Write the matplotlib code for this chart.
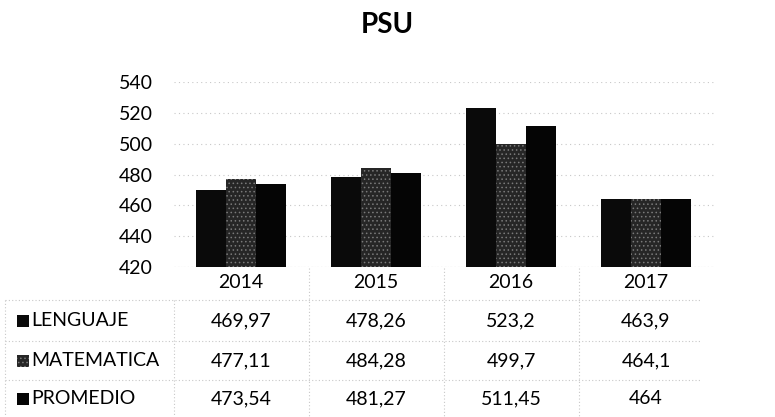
import numpy as np
import matplotlib
matplotlib.use("Agg")
import matplotlib.pyplot as plt
import matplotlib.transforms as mtransforms
from matplotlib.patches import Rectangle

plt.rcParams['font.family'] = ['Lato', 'DejaVu Sans']
plt.rcParams['hatch.linewidth'] = 0.6

# datos
years = ['2014', '2015', '2016', '2017']
series_names = ['LENGUAJE', 'MATEMATICA', 'PROMEDIO']
lenguaje = [469.97, 478.26, 523.2, 463.9]
matematica = [477.11, 484.28, 499.7, 464.1]
promedio = [473.54, 481.27, 511.45, 464]
yticks = [420, 440, 460, 480, 500, 520, 540]

series = [lenguaje, matematica, promedio]
colores = ['#0a0a0a', '#262626', '#050505']
hatches = [None, '....', None]

W, H = 775, 417
fig = plt.figure(figsize=(W / 100, H / 100), dpi=100)
ax = fig.add_axes([173.5 / W, 1 - 267 / H, 540 / W, 185 / H])

x = np.arange(len(years))
ancho = 30 / 135
for i, (vals, c, h) in enumerate(zip(series, colores, hatches)):
    bars = ax.bar(x + (i - 1) * ancho, np.array(vals) - 420, ancho, bottom=420,
                  color=c, linewidth=0, zorder=3)
    if h:
        for b in bars:
            b.set_hatch(h)
            b.set_edgecolor('#7a7a7a')

ax.set_xlim(-0.5, len(years) - 0.5)
ax.set_ylim(420, 540)
ax.set_yticks(yticks)
ax.tick_params(axis='y', length=0, labelsize=14, pad=15)
ax.set_xticks([])
for s in ax.spines.values():
    s.set_visible(False)
ax.grid(axis='y', color='#c8c8c8', linestyle=(0, (1, 3)), linewidth=0.8, zorder=0)
ax.axhline(420, color='#bbbbbb', linestyle=(0, (1, 2)), linewidth=0.8, zorder=1)

fig.text(387 / W, 1 - 25 / H, 'PSU', ha='center', va='center', fontsize=20, fontweight='bold')

# tabla de datos
tr = mtransforms.blended_transform_factory(ax.transData, fig.transFigure)
fy = lambda py: 1 - py / H
fila_y = [321, 361, 399]

for xi, yr in zip(x, years):
    ax.text(xi, fy(282), yr, transform=tr, ha='center', va='center', fontsize=14)

def fmt(v):
    return f"{v:g}".replace('.', ',')

for r, (nombre, vals, c, h) in enumerate(zip(series_names, series, colores, hatches)):
    y = fy(fila_y[r])
    for xi, v in zip(x, vals):
        ax.text(xi, y, fmt(v), transform=tr, ha='center', va='center', fontsize=14)
    sq = Rectangle((17 / W, y - 6 / H), 12 / W, 12 / H, transform=fig.transFigure,
                   facecolor=c, edgecolor='#7a7a7a' if h else c, hatch=h, linewidth=0)
    fig.patches.append(sq)
    fig.text(31 / W, y, nombre, ha='left', va='center', fontsize=14)

grid_kw = dict(color='#c8c8c8', linestyle=(0, (1, 2)), linewidth=0.8)
for py in [300, 341, 380]:
    fig.add_artist(plt.Line2D([5 / W, 700 / W], [fy(py), fy(py)], **grid_kw))
fig.add_artist(plt.Line2D([5 / W, 5 / W], [fy(300), fy(417)], **grid_kw))
for px in [173.5, 308.5, 443.5, 578.5]:
    top = 300 if px == 173.5 else 268
    fig.add_artist(plt.Line2D([px / W, px / W], [fy(top), fy(417)], **grid_kw))

fig.savefig('out.png', dpi=100)
